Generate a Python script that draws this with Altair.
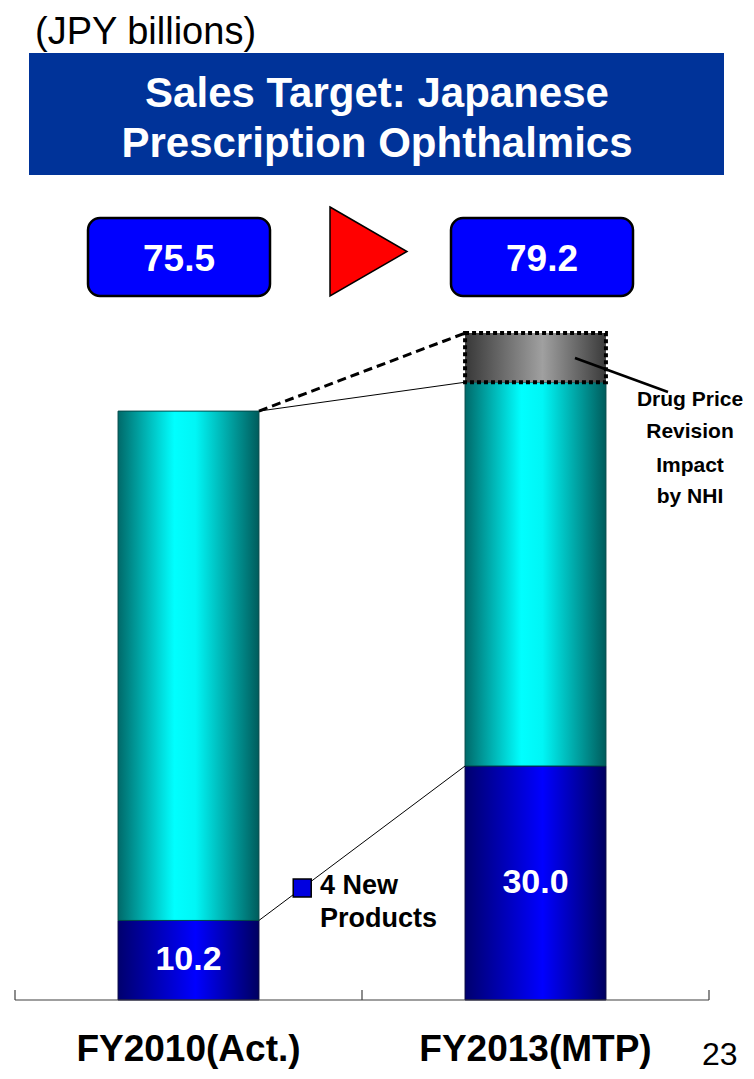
import altair as alt
import pandas as pd

# ---------------- data ----------------
categories = ["FY2010(Act.)", "FY2013(MTP)"]
new_products = [10.2, 30.0]          # 4 new products (blue)
totals = [75.5, 79.2]                # total sales
total_labels = ["75.5", "79.2"]
new_labels = ["10.2", "30.0"]
price_impact = [0.0, 6.3]            # drug price revision impact (grey, dotted)
unit_label = "(JPY billions)"
title_lines = ["Sales Target: Japanese", "Prescription Ophthalmics"]
new_products_label = ["4 New", "Products"]
impact_label = ["Drug Price", "Revision", "Impact", " by NHI"]
page_number = "23"

# ---------------- layout constants ----------------
W, H = 738, 992
PX_PER_UNIT = 7.8
HALF = 0.203
FONT = "Liberation Sans, Arial, Helvetica, sans-serif"
XS = alt.Scale(domain=[0, 2], range=[7, 701], nice=False, zero=False)
YS = alt.Scale(domain=[0, H / PX_PER_UNIT], nice=False, zero=False)

bars = pd.DataFrame({
    "cat": categories,
    "idx": list(range(len(categories))),
    "new": new_products,
    "total": totals,
    "impact": price_impact,
    "new_label": new_labels,
})
bars["xc"] = bars["idx"] + 0.5
bars["x1"] = bars["xc"] - HALF
bars["x2"] = bars["xc"] + HALF
bars["zero"] = 0.0
bars["top"] = bars["total"] + bars["impact"]
bars["mid"] = bars["new"] / 2


def grad(stops):
    return alt.Gradient(
        gradient="linear",
        stops=[alt.GradientStop(offset=o, color=c) for o, c in stops],
        x1=0, x2=1, y1=0, y2=0,
    )


teal = grad([(0, "#006a6a"), (0.40, "#00ffff"), (0.55, "#00f6f6"), (1, "#005c5c")])
blue = grad([(0, "#00006e"), (0.55, "#0000ff"), (1, "#000060")])
grey = grad([(0, "#383838"), (0.55, "#a0a0a0"), (1, "#3a3a3a")])

X = lambda f: alt.X(f, type="quantitative", scale=XS, axis=None)
Y = lambda f: alt.Y(f, type="quantitative", scale=YS, axis=None)

layers = []

# bars
layers.append(alt.Chart(bars).mark_rect(fill=blue, stroke="#000040", strokeWidth=1).encode(
    x=X("x1"), x2="x2", y=Y("zero"), y2="new"))
layers.append(alt.Chart(bars).mark_rect(fill=teal, stroke="#004848", strokeWidth=1).encode(
    x=X("x1"), x2="x2", y=Y("new"), y2="total"))
imp = bars[bars["impact"] > 0]
layers.append(alt.Chart(imp).mark_rect(fill=grey, stroke="#000000", strokeWidth=4,
                                       strokeDash=[4, 3]).encode(
    x=X("x1"), x2="x2", y=Y("total"), y2="top"))

# labels inside blue segments
layers.append(alt.Chart(bars).mark_text(font=FONT, fontSize=34, fontWeight="bold", color="white",
                                        align="center", baseline="middle").encode(
    x=X("xc"), y=Y("mid"), text="new_label:N"))

# connector lines
b0, b1 = bars.iloc[0], bars.iloc[1]
conn = pd.DataFrame({
    "xa": [b0["x2"]] * 3,
    "xb": [b1["x1"]] * 3,
    "ya": [b0["total"], b0["total"], b0["new"]],
    "yb": [b1["total"], b1["top"], b1["new"]],
    "kind": ["solid", "dashed", "new"],
})
layers.append(alt.Chart(conn[conn.kind != "dashed"]).mark_rule(color="black", strokeWidth=1).encode(
    x=X("xa"), x2="xb", y=Y("ya"), y2="yb"))
layers.append(alt.Chart(conn[conn.kind == "dashed"]).mark_rule(color="black", strokeWidth=3,
                                                              strokeDash=[9, 5]).encode(
    x=X("xa"), x2="xb", y=Y("ya"), y2="yb"))

# legend square on the "new products" connector
t = 0.21
sq = pd.DataFrame({"sx": [b0["x2"] + t * (b1["x1"] - b0["x2"])],
                   "sy": [b0["new"] + t * (b1["new"] - b0["new"])]})
layers.append(alt.Chart(sq).mark_square(size=324, filled=True, fill="#0000e0", stroke="black",
                                        strokeWidth=1.5, opacity=1).encode(x=X("sx"), y=Y("sy")))

# axis line and ticks
axis = pd.DataFrame({"a": [0.0], "b": [2.0], "y": [0.0]})
layers.append(alt.Chart(axis).mark_rule(color="#404040", strokeWidth=1.2).encode(
    x=X("a"), x2="b", y=Y("y")))
ticks = pd.DataFrame({"x": [0.0, 1.0, 2.0], "y0": [0.0] * 3, "y1": [10 / PX_PER_UNIT] * 3})
layers.append(alt.Chart(ticks).mark_rule(color="#404040", strokeWidth=1.2).encode(
    x=X("x"), y=Y("y0"), y2="y1"))

# category labels
layers.append(alt.Chart(bars).mark_text(font=FONT, fontSize=37, fontWeight="bold", color="black",
                                        align="center", baseline="middle").encode(
    x=X("xc"), y=alt.value(1042), text="cat:N"))


def text_layer(txt, x, y, size, weight="bold", color="black", align="center", baseline="middle"):
    return alt.Chart(pd.DataFrame({"t": [txt]})).mark_text(
        font=FONT, fontSize=size, fontWeight=weight, color=color, align=align,
        baseline=baseline).encode(x=alt.value(x), y=alt.value(y), text="t:N")


one = pd.DataFrame({"k": [0]})

# unit label
layers.append(text_layer(unit_label, 27, 36, 38, weight="normal", align="left", baseline="alphabetic"))

# title box
layers.append(alt.Chart(one).mark_rect(fill="#003399").encode(
    x=alt.value(21), x2=alt.value(716), y=alt.value(45), y2=alt.value(167)))
for line, yy in zip(title_lines, [99, 149]):
    layers.append(text_layer(line, 369, yy, 42, color="white", baseline="alphabetic"))

# total value boxes
BOX_X = [(80, 262), (443, 625)]
for (xa, xb), lab in zip(BOX_X, total_labels):
    layers.append(alt.Chart(one).mark_rect(fill="#0000ff", stroke="black", strokeWidth=2.5,
                                           cornerRadius=12).encode(
        x=alt.value(xa), x2=alt.value(xb), y=alt.value(210), y2=alt.value(288)))
    layers.append(text_layer(lab, (xa + xb) / 2, 263, 37, color="white", baseline="alphabetic"))

# red arrow triangle
layers.append(alt.Chart(one).mark_point(shape="M -0.865 -1 L 0.865 0 L -0.865 1 Z", size=7921,
                                        filled=True, fill="#ff0000", stroke="black",
                                        strokeWidth=1.5, opacity=1).encode(
    x=alt.value(360.5), y=alt.value(243.5)))

# drug price annotation
layers.append(alt.Chart(one).mark_rule(color="black", strokeWidth=2.5).encode(
    x=alt.value(567), x2=alt.value(660), y=alt.value(350), y2=alt.value(384)))
for line, yy in zip(impact_label, [392, 424, 458, 489]):
    layers.append(text_layer(line, 682, yy, 21))

# new products annotation
for line, yy in zip(new_products_label, [878, 911]):
    layers.append(text_layer(line, 312, yy, 27, align="left"))

# page number
layers.append(text_layer(page_number, 694, 1057, 32, weight="normal", align="left",
                         baseline="alphabetic"))

chart = alt.layer(*layers).properties(
    width=W, height=H,
    padding={"left": 0, "top": 0, "right": 0, "bottom": 71},
    autosize=alt.AutoSizeParams(type="none"),
    background="white",
).configure_view(stroke=None)

chart.save("out.html", embed_options={"renderer": "svg", "actions": False})
